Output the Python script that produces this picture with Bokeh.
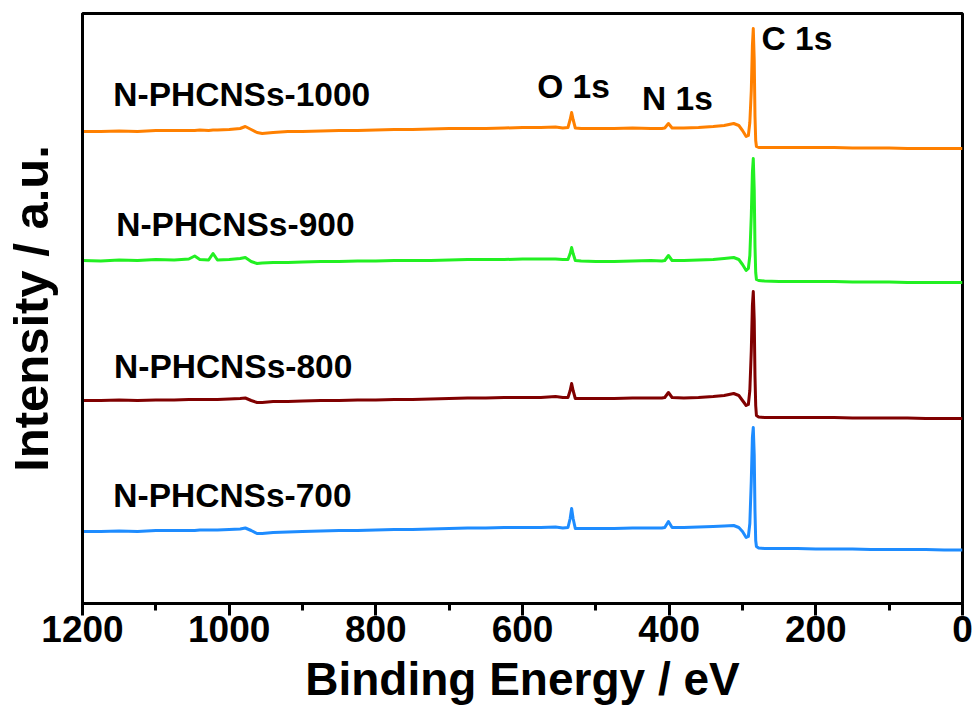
from bokeh.plotting import figure
from bokeh.models import Range1d, SingleIntervalTicker, FixedTicker, Label, ColumnDataSource
from bokeh.embed import file_html
from bokeh.resources import INLINE

# ---------------- data ----------------
energy = [1200, 1175, 1150, 1125, 1100, 1075, 1055, 1047, 1040, 1028, 1022, 1016,
          1000, 985, 978, 970, 962, 955, 940, 920, 900, 875, 850, 825, 800, 775,
          750, 725, 700, 675, 650, 625, 600, 575, 555, 545, 538, 535, 533, 531,
          528, 520, 500, 475, 450, 425, 410, 406, 401, 396, 380, 360, 340, 325,
          312, 305, 300, 295, 292, 290, 288, 286.5, 285.3, 284, 283, 282, 281,
          278, 270, 250, 225, 200, 175, 150, 125, 100, 75, 50, 25, 0]

# stacked intensities (a.u., offset included)
int_1000 = [472, 472, 472.5, 472, 473, 473, 473, 473, 473.5, 473, 473.5, 473.5,
            474, 475, 477, 474, 471, 470, 471, 472, 472, 472.5, 473, 473, 473.5, 474,
            474, 474.5, 475, 475, 475, 475.5, 476, 476, 476.5, 475.5, 476, 484, 491, 484,
            475.5, 475, 475, 475, 475.5, 475, 475, 475.5, 480, 475.5, 475.5, 476, 477, 478,
            480, 478, 473, 467, 468, 481, 513, 558, 575, 543, 488, 463, 457,
            456, 456, 456, 456, 456, 456, 455.5, 455.5, 455.5, 455, 455, 455, 455]

int_900 = [343, 342.5, 343.5, 343, 344, 343.5, 344.5, 347.5, 344, 343.5, 350, 343.5,
           344, 345, 346, 342, 340, 340.5, 341, 341, 341.5, 342, 342, 342.5, 342.5, 343,
           343, 343, 343.5, 344, 344, 344, 344.5, 344.5, 344.5, 344, 344, 350, 356, 350,
           343, 342.5, 342, 342, 342.5, 343, 342.5, 343, 348, 343, 343, 343.5, 344, 345,
           346, 344, 339, 333, 335, 348, 388, 431, 445, 413, 358, 331, 324,
           323, 322.5, 322, 322, 322, 322, 321.5, 321.5, 321.5, 321, 321, 321, 321]

int_800 = [203, 203, 203.5, 203, 203.5, 203.5, 204, 204, 204, 204, 204, 204,
           204.5, 205, 205.5, 203, 201, 201, 202, 202, 202.5, 203, 203, 203.5, 203.5, 204,
           204, 204.5, 205, 205.5, 205.5, 206, 206, 206, 207, 206, 206, 213, 220, 213,
           205, 205, 205, 205, 205.5, 205.5, 205.5, 206, 211, 206, 205.5, 206, 207, 208,
           210, 208, 203, 198, 199, 213, 253, 298, 312, 283, 228, 198, 188,
           186.5, 186, 186, 186, 186, 186, 185.5, 185.5, 185.5, 185.5, 185, 185, 185]

int_700 = [72, 72, 72.5, 72, 73, 73, 73, 73, 73.5, 73.5, 73.5, 73.5,
           74, 74.5, 75.5, 73, 70, 70, 71, 71.5, 72, 72.5, 73, 73, 73.5, 74,
           74, 74.5, 75, 75.5, 75.5, 76, 76, 76, 76.5, 75.5, 76, 85, 95, 85,
           75, 75, 75, 75, 75.5, 75.5, 75.5, 76, 82, 76, 76, 76.5, 77, 77.5,
           78, 76, 72, 66, 67, 80, 123, 166, 176, 148, 93, 63, 57,
           55.5, 55, 55, 55, 54.5, 54.5, 54.5, 54, 54, 54, 54, 53.5, 53.5]

series_names = ["N-PHCNSs-1000", "N-PHCNSs-900", "N-PHCNSs-800", "N-PHCNSs-700"]
series_values = [int_1000, int_900, int_800, int_700]
series_colors = ["#FF8000", "#22F022", "#800000", "#1E8CFF"]

peak_labels = ["O 1s", "N 1s", "C 1s"]
x_title = "Binding Energy / eV"
y_title = "Intensity / a.u."

for s in series_values:
    assert len(s) == len(energy), (len(s), len(energy))

# ---------------- figure ----------------
FONT = "Liberation Sans"

p = figure(width=973, height=711, output_backend="svg", toolbar_location=None,
           x_range=Range1d(1200, 0), y_range=Range1d(0, 590),
           min_border_left=82, min_border_right=11, min_border_top=13,
           min_border_bottom=108)

p.xgrid.visible = False
p.ygrid.visible = False
p.outline_line_color = "black"
p.outline_line_width = 3
p.background_fill_color = "white"
p.border_fill_color = "white"

for name, vals, col in zip(series_names, series_values, series_colors):
    src = ColumnDataSource(dict(x=energy, y=vals))
    p.line("x", "y", source=src, line_color=col, line_width=3, line_join="round")

# x axis
xa = p.xaxis[0]
xa.ticker = SingleIntervalTicker(interval=200, num_minor_ticks=2)
xa.axis_label = x_title
xa.axis_label_text_font = FONT
xa.axis_label_text_font_style = "bold"
xa.axis_label_text_font_size = "46px"
xa.axis_label_text_color = "black"
xa.axis_label_standoff = 8
xa.major_label_text_font = FONT
xa.major_label_text_font_style = "bold"
xa.major_label_text_font_size = "37px"
xa.major_label_text_color = "black"
xa.major_label_standoff = 0
xa.axis_line_width = 3
xa.axis_line_color = "black"
xa.major_tick_in = 0
xa.major_tick_out = 12
xa.minor_tick_in = 0
xa.minor_tick_out = 7
xa.major_tick_line_width = 3
xa.minor_tick_line_width = 3
xa.major_tick_line_color = "black"
xa.minor_tick_line_color = "black"

# y axis
ya = p.yaxis[0]
ya.ticker = FixedTicker(ticks=[])
ya.axis_label = y_title
ya.axis_label_text_font = FONT
ya.axis_label_text_font_style = "bold"
ya.axis_label_text_font_size = "49px"
ya.axis_label_text_color = "black"
ya.axis_label_standoff = 25
ya.major_label_standoff = 0
ya.major_tick_out = 0
ya.major_tick_in = 0
ya.minor_tick_out = 0
ya.minor_tick_in = 0
ya.axis_line_width = 3
ya.axis_line_color = "black"

# series labels
series_label_pos = [(1158, 509), (1154, 379), (1157, 237), (1158, 108)]
for name, (lx, ly) in zip(series_names, series_label_pos):
    p.add_layout(Label(x=lx, y=ly, text=name, text_font=FONT, text_font_style="bold",
                       text_font_size="33.5px", text_color="black",
                       text_baseline="alphabetic", text_align="left"))

peak_label_pos = [(580, 517), (437, 505), (274, 565)]
for name, (lx, ly) in zip(peak_labels, peak_label_pos):
    p.add_layout(Label(x=lx, y=ly, text=name, text_font=FONT, text_font_style="bold",
                       text_font_size="33.5px", text_color="black",
                       text_baseline="alphabetic", text_align="left"))

open("out.html", "w").write(file_html(p, INLINE))
